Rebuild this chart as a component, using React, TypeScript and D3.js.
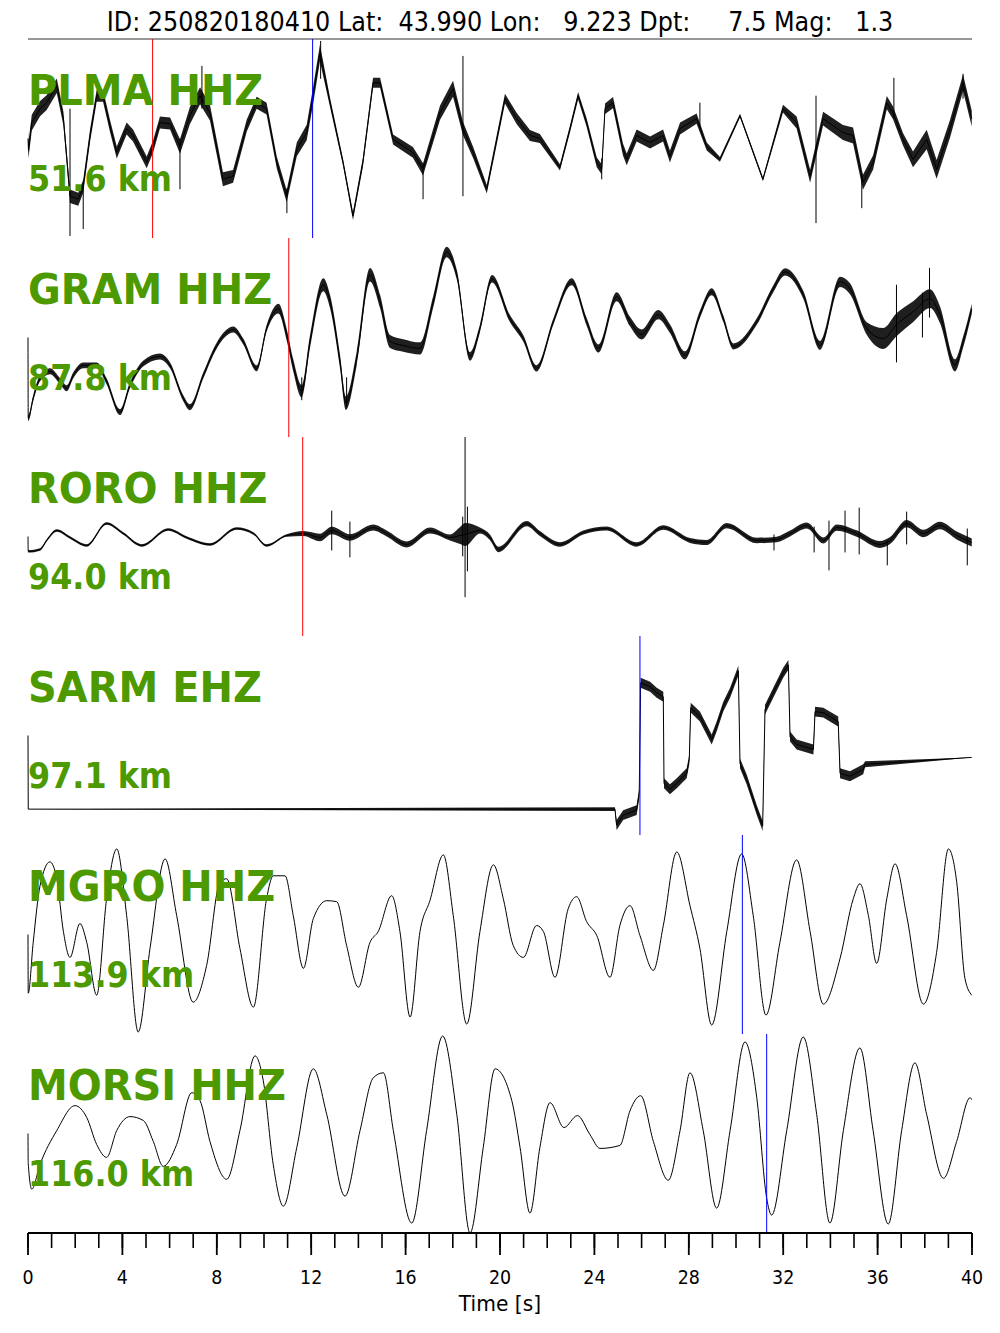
import React from 'react';
import * as d3 from 'd3';

// ---------------- DATA ----------------
const TITLE = 'ID: 250820180410 Lat:  43.990 Lon:   9.223 Dpt:     7.5 Mag:   1.3';
const stationNames = ['PLMA HHZ', 'GRAM HHZ', 'RORO HHZ', 'SARM EHZ', 'MGRO HHZ', 'MORSI HHZ'];
const distanceLabels = ['51.6 km', '87.8 km', '94.0 km', '97.1 km', '113.9 km', '116.0 km'];
const pPicks: (number | null)[] = [5.28, 11.05, 11.64, null, null, null];
const sPicks: (number | null)[] = [12.06, null, null, 25.93, 30.27, 31.3];
const majorTicks = [0, 4, 8, 12, 16, 20, 24, 28, 32, 36, 40];
const minorTicks = [0,1,2,3,4,5,6,7,8,9,10,11,12,13,14,15,16,17,18,19,20,21,22,23,24,25,26,27,28,29,30,31,32,33,34,35,36,37,38,39,40];

// traces: [time s, normalized amplitude]
const plmaTrace: [number, number][] = [
  [0,0],[0.02,-0.12],[0.16,0.16],[0.51,0.3],[0.79,0.36],[1.22,0.53],[1.5,0.2],[1.78,-0.58],[2.13,-0.61],[2.34,-0.48],
  [2.63,0.03],[2.91,0.43],[3.18,0.43],[3.47,0.13],[3.76,-0.14],[4.18,0.1],[4.45,0.03],[5.03,-0.24],[5.3,-0.08],[5.59,0.16],
  [6.02,0.15],[6.44,-0.08],[6.86,0.23],[7.29,0.43],[7.71,0.26],[8.26,-0.41],[8.69,-0.38],[9.27,0.13],[9.69,0.36],[10.11,0.3],
  [10.54,-0.24],[10.96,-0.58],[11.39,-0.11],[11.81,0.06],[12.08,0.43],[12.37,0.86],[12.8,0.36],[13.35,-0.24],[13.77,-0.78],[14.19,-0.24],
  [14.62,0.56],[14.92,0.56],[15.47,-0.01],[16.31,-0.14],[16.74,-0.31],[17.46,0.26],[18.01,0.5],[18.43,0.1],[18.86,-0.14],[19.44,-0.51],
  [20.21,0.4],[20.71,0.2],[21.27,0.03],[21.69,0.0],[22.54,-0.29],[22.97,0.1],[23.31,0.43],[23.67,0.16],[24.1,-0.24],[24.31,-0.31],
  [24.45,0.3],[24.79,0.36],[25.21,-0.11],[25.37,-0.21],[25.79,0.03],[26.36,-0.04],[26.91,0.03],[27.2,-0.18],[27.63,0.1],[28.33,0.2],
  [28.76,-0.08],[29.32,-0.21],[30.17,0.23],[31.14,-0.41],[31.99,0.3],[32.57,0.16],[33.14,-0.38],[33.69,0.2],[34.53,0.06],[34.96,0.03],
  [35.38,-0.44],[35.81,-0.24],[36.39,0.36],[36.65,0.26],[37.08,-0.01],[37.5,-0.21],[38.08,-0.01],[38.5,-0.31],[39.07,0.1],[39.62,0.56],[39.99,0.2],
];
const plmaNoise: [number, number][] = [
  [0,0.08],[3,0.06],[6,0.06],[7,0.09],[9,0.06],[11,0.06],[12.3,0.09],[13,0.03],[14.5,0.05],[16,0.05],[18,0.08],[19.5,0.04],
  [21,0.06],[22.5,0.03],[23.5,0.04],[25,0.06],[28,0.06],[29.5,0.02],[31.5,0.02],[32.5,0.06],[35,0.08],[37,0.06],[38,0.1],[40,0.08],
];
const plmaSpikes: [number, number, number][] = [
  [1.78,0.3,-0.98],[2.34,-0.45,-0.91],[6.44,0.0,-0.51],[7.37,0.73,0.3],[10.97,-0.5,-0.75],[12.4,0.98,0.6],[16.74,-0.25,-0.61],
  [18.43,0.83,-0.58],[24.31,-0.2,-0.41],[28.47,0.36,0.1],[33.39,0.43,-0.85],[35.33,-0.35,-0.7],[36.69,0.61,0.2],[39.62,0.65,0.4],
];

const gramTrace: [number, number][] = [
  [0,0],[0.01,-0.81],[0.22,-0.61],[0.51,-0.41],[0.93,-0.34],[1.36,-0.44],[1.64,-0.51],[1.92,-0.38],[2.34,-0.28],[2.91,-0.28],
  [3.33,-0.44],[3.9,-0.75],[4.32,-0.48],[4.89,-0.26],[5.59,-0.19],[6.02,-0.28],[6.58,-0.61],[6.86,-0.7],[7.43,-0.38],[8.0,-0.08],
  [8.7,0.08],[9.12,-0.04],[9.69,-0.31],[10.11,0.09],[10.61,0.29],[10.96,0.03],[11.24,-0.28],[11.6,-0.54],[11.95,-0.04],[12.51,0.53],
  [12.8,0.36],[13.22,-0.24],[13.47,-0.66],[13.93,-0.21],[14.49,0.63],[14.92,0.36],[15.34,-0.04],[15.9,-0.08],[16.61,-0.11],[17.17,0.36],
  [17.74,0.86],[18.17,0.63],[18.73,-0.19],[19.15,0.09],[19.66,0.59],[20.42,0.19],[20.99,-0.01],[21.55,-0.31],[22.26,0.16],[23.04,0.56],
  [23.67,0.16],[24.17,-0.11],[24.94,0.41],[25.51,0.16],[26.0,0.03],[26.71,0.23],[27.2,0.09],[27.84,-0.18],[28.47,0.23],[28.97,0.46],
  [29.46,0.19],[29.89,-0.09],[30.88,0.16],[31.58,0.49],[32.08,0.66],[32.85,0.43],[33.56,-0.08],[34.41,0.56],[34.83,0.49],[35.54,0.09],
  [36.24,-0.01],[36.81,0.13],[37.51,0.26],[38.22,0.39],[38.64,0.23],[39.28,-0.28],[39.63,-0.04],[39.99,0.29],
];
const gramNoise: [number, number][] = [
  [0,0.03],[10,0.03],[11,0.06],[14,0.07],[17,0.06],[19,0.04],[22,0.03],[26,0.05],[28,0.04],[30,0.03],[33,0.04],
  [35.5,0.06],[36.5,0.12],[38.5,0.09],[39.3,0.06],[40,0.05],
];
const gramSpikes: [number, number, number][] = [
  [11.6,-0.4,-0.63],[13.5,-0.4,-0.7],[36.8,0.53,-0.25],[37.9,0.45,0.0],[38.2,0.7,0.2],
];

const roroTrace: [number, number][] = [
  [0,0],[0.01,-0.15],[0.51,-0.13],[0.79,-0.04],[1.22,0.06],[1.78,-0.01],[2.49,-0.09],[3.33,0.13],[4.04,0.03],[4.82,-0.09],
  [5.94,0.07],[6.72,-0.01],[7.71,-0.08],[8.84,0.08],[9.55,0.03],[10.11,-0.09],[10.96,0.01],[11.67,0.03],[12.37,-0.01],[12.87,0.06],
  [13.64,-0.01],[14.63,0.09],[15.2,0.03],[16.05,-0.08],[17.03,0.06],[17.88,-0.01],[18.31,0.01],[18.52,0.02],[19.15,0.06],[19.58,-0.01],
  [19.93,-0.13],[21.13,0.13],[21.69,0.03],[22.54,-0.08],[23.53,0.04],[24.52,0.08],[25.79,-0.08],[26.92,0.09],[28.05,-0.04],[28.76,-0.06],
  [29.61,0.11],[30.88,-0.04],[31.72,-0.03],[32.29,0.03],[33.0,0.11],[33.7,-0.04],[34.27,0.09],[35.11,0.03],[36.1,-0.08],[36.53,-0.04],
  [37.23,0.13],[37.94,0.03],[38.64,0.11],[39.35,0.01],[39.99,-0.06],
];
const roroNoise: [number, number][] = [
  [0,0.012],[11,0.012],[12.5,0.04],[14,0.03],[18,0.03],[18.5,0.12],[19,0.03],[24,0.02],[33,0.03],[40,0.04],
];
const roroSpikes: [number, number, number][] = [
  [12.87,0.26,-0.14],[13.64,0.15,-0.21],[18.42,0.2,-0.2],[18.52,1.0,-0.61],[18.62,0.3,-0.35],[31.61,0.02,-0.14],[33.31,0.1,-0.16],
  [33.94,0.16,-0.34],[34.62,0.26,-0.16],[35.22,0.29,-0.18],[36.41,-0.04,-0.29],[37.23,0.25,-0.08],[39.8,0.08,-0.29],
];

const sarmTrace: [number, number][] = [
  [0,0],[0.01,-0.74],[24.87,-0.74],[24.94,-0.9],[25.22,-0.8],[25.79,-0.75],[25.9,-0.58],[25.96,0.53],[26.36,0.49],[26.64,0.43],
  [26.92,0.39],[26.95,-0.48],[27.2,-0.54],[27.49,-0.48],[27.91,-0.38],[28.02,-0.24],[28.08,0.28],[28.47,0.19],[28.97,-0.04],[29.18,0.09],
  [29.46,0.29],[29.75,0.43],[30.1,0.65],[30.17,-0.28],[30.45,-0.44],[30.88,-0.75],[31.13,-0.91],[31.23,0.26],[31.58,0.43],[32.0,0.63],
  [32.22,0.71],[32.29,-0.01],[32.57,-0.09],[33.28,-0.14],[33.35,0.24],[33.7,0.23],[34.33,0.14],[34.41,-0.38],[34.83,-0.41],[35.39,-0.34],
  [35.47,-0.29],[39.99,-0.22],
];
const sarmNoise: [number, number][] = [[0,0],[24.85,0],[24.9,0.05],[35.45,0.05],[35.5,0],[40,0]];

const mgroTrace: [number, number][] = [
  [0,0],[0.01,-0.59],[0.22,-0.08],[0.51,0.49],[0.93,0.73],[1.22,0.56],[1.5,0.03],[1.78,-0.23],[2.2,0.11],[2.49,-0.08],
  [2.91,-0.61],[3.33,0.36],[3.76,0.86],[4.18,0.19],[4.67,-0.98],[5.17,-0.14],[5.81,0.76],[6.3,0.19],[7.0,-0.68],[7.57,-0.31],
  [8.14,0.53],[8.42,0.56],[8.98,-0.14],[9.55,-0.73],[10.11,0.36],[10.39,0.59],[10.89,0.59],[11.24,0.19],[11.67,-0.34],[12.09,0.16],
  [12.66,0.34],[13.08,0.33],[13.5,-0.11],[14.0,-0.53],[14.49,-0.08],[14.84,0.03],[15.41,0.39],[15.76,0.03],[16.19,-0.83],[16.61,0.03],
  [17.03,0.34],[17.6,0.8],[18.02,0.19],[18.59,-0.9],[19.15,0.03],[19.72,0.7],[20.14,0.36],[20.56,-0.11],[20.99,-0.23],[21.55,0.09],
  [21.84,0.03],[22.33,-0.43],[22.89,0.26],[23.25,0.38],[23.67,0.13],[24.1,-0.01],[24.66,-0.43],[25.08,0.09],[25.51,0.29],[25.93,-0.01],
  [26.5,-0.36],[26.92,0.09],[27.49,0.83],[28.05,0.29],[28.47,-0.14],[28.97,-0.91],[29.61,0.03],[30.24,0.81],[30.73,0.19],[31.27,-0.81],
  [31.86,-0.08],[32.57,0.75],[33.14,0.03],[33.7,-0.7],[34.41,-0.24],[34.97,0.36],[35.25,0.51],[35.61,0.19],[35.96,-0.29],[36.39,0.36],
  [36.74,0.71],[37.23,0.19],[37.94,-0.7],[38.5,-0.18],[39.0,0.86],[39.35,0.53],[39.7,-0.44],[39.99,-0.61],
];

const morsiTrace: [number, number][] = [
  [0,0],[0.01,-0.3],[0.16,-0.56],[0.51,-0.31],[1.22,0.03],[1.99,0.28],[2.49,0.16],[2.91,-0.11],[3.33,-0.24],[3.76,0.03],
  [4.32,0.17],[4.89,0.13],[5.31,-0.08],[5.73,-0.33],[6.3,-0.11],[6.94,0.41],[7.29,0.33],[7.71,-0.08],[8.42,-0.46],[8.98,0.03],
  [9.62,0.78],[9.97,0.53],[10.39,-0.31],[10.82,-0.73],[11.39,-0.14],[12.09,0.65],[12.66,0.19],[13.43,-0.63],[14.07,0.03],[14.63,0.56],
  [15.06,0.61],[15.48,0.03],[16.26,-0.9],[16.89,0.03],[17.57,0.98],[18.17,0.19],[18.73,-1.0],[19.29,-0.14],[19.79,0.65],[20.5,0.33],
  [20.85,-0.14],[21.27,-0.8],[21.69,-0.14],[22.12,0.31],[22.71,0.06],[23.28,0.18],[23.81,-0.01],[24.24,-0.15],[25.08,-0.12],[25.51,0.23],
  [25.96,0.38],[26.5,-0.08],[27.13,-0.47],[27.63,0.03],[28.05,0.61],[28.61,0.03],[29.18,-0.75],[29.75,0.03],[30.38,0.92],[30.88,0.36],
  [31.3,-0.65],[31.51,-0.82],[32.15,0.03],[32.85,0.97],[33.42,0.19],[33.98,-0.9],[34.55,0.03],[35.25,0.86],[35.81,0.03],[36.45,-0.91],
  [37.02,0.03],[37.58,0.71],[38.08,0.19],[38.79,-0.45],[39.35,-0.08],[39.92,0.36],[39.99,0.34],
];

// ---------------- LAYOUT ----------------
const W = 1000, H = 1333;
const X0 = 28, X1 = 972;
const TOP = 39, PANEL_H = 199;
const AXIS_Y = TOP + 6 * PANEL_H;

const traces = [plmaTrace, gramTrace, roroTrace, sarmTrace, mgroTrace, morsiTrace];
const noises: ([number, number][] | null)[] = [plmaNoise, gramNoise, roroNoise, sarmNoise, null, null];
const spikes: ([number, number, number][] | null)[] = [plmaSpikes, gramSpikes, roroSpikes, null, null, null];
const curves = [d3.curveLinear, d3.curveMonotoneX, d3.curveMonotoneX, d3.curveLinear, d3.curveMonotoneX, d3.curveMonotoneX];

const GREEN = '#4c9900';
const FONT = '"DejaVu Sans", Verdana, sans-serif';

function interp(arr: [number, number][], t: number) {
  const s = d3.scaleLinear().domain(arr.map((d) => d[0])).range(arr.map((d) => d[1])).clamp(true);
  return s(t);
}

function SText(props: { x: number; y: number; size: number; sx: number; bold?: boolean; anchor?: string; fill?: string; children: string }) {
  const { x, y, size, sx, bold, anchor, fill, children } = props;
  return (
    <text
      transform={`translate(${x},${y}) scale(${sx},1)`}
      fontFamily={FONT}
      fontSize={size}
      fontWeight={bold ? 'bold' : 'normal'}
      textAnchor={anchor || 'start'}
      fill={fill || '#000'}
      style={{ whiteSpace: 'pre' }}
    >
      {children}
    </text>
  );
}

export default function App() {
  const x = d3.scaleLinear().domain([0, 40]).range([X0, X1]);

  return (
    <svg width={W} height={H} style={{ position: 'absolute', left: 0, top: 0, background: '#fff' }}>
      <rect x={0} y={0} width={W} height={H} fill="#fff" />
      <SText x={500} y={31} size={26} sx={0.92} anchor="middle">{TITLE}</SText>
      <line x1={X0} x2={X1} y1={TOP} y2={TOP} stroke="#333" strokeWidth={1.2} />
      {traces.map((tr, i) => {
        const top = TOP + i * PANEL_H;
        const y = d3.scaleLinear().domain([-1, 1]).range([top + PANEL_H, top]);
        const line = d3.line<[number, number]>().x((d) => x(d[0])).y((d) => y(d[1])).curve(curves[i]);
        const nz = noises[i];
        let band: string | null = null;
        if (nz) {
          const area = d3
            .area<[number, number]>()
            .x((d) => x(d[0]))
            .y0((d) => y(d[1] - interp(nz, d[0])))
            .y1((d) => y(d[1] + interp(nz, d[0])))
            .curve(curves[i]);
          band = area(tr);
        }
        const p = pPicks[i];
        const s = sPicks[i];
        return (
          <g key={i}>
            {band && <path d={band} fill="#000" fillOpacity={0.88} stroke="none" />}
            <path d={line(tr) || ''} fill="none" stroke="#000" strokeWidth={1} strokeLinejoin="round" />
            {(spikes[i] || []).map((sp, k) => (
              <line key={k} x1={x(sp[0])} x2={x(sp[0])} y1={y(sp[1])} y2={y(sp[2])} stroke="#000" strokeWidth={1} />
            ))}
            {p !== null && <line x1={x(p)} x2={x(p)} y1={top} y2={top + PANEL_H} stroke="#ff0000" strokeWidth={1} />}
            {s !== null && <line x1={x(s)} x2={x(s)} y1={top} y2={top + PANEL_H} stroke="#0000ff" strokeWidth={1} />}
            <SText x={X0} y={top + 66} size={43} sx={0.93} bold fill={GREEN}>{stationNames[i]}</SText>
            <SText x={X0} y={top + 152} size={36} sx={0.885} bold fill={GREEN}>{distanceLabels[i]}</SText>
          </g>
        );
      })}
      <g>
        <line x1={X0} x2={X1} y1={AXIS_Y} y2={AXIS_Y} stroke="#000" strokeWidth={2} />
        {minorTicks.map((t) => (
          <line key={'m' + t} x1={x(t)} x2={x(t)} y1={AXIS_Y} y2={AXIS_Y + 15} stroke="#000" strokeWidth={1.6} />
        ))}
        {majorTicks.map((t) => (
          <g key={'M' + t}>
            <line x1={x(t)} x2={x(t)} y1={AXIS_Y} y2={AXIS_Y + 22} stroke="#000" strokeWidth={1.8} />
            <SText x={x(t)} y={AXIS_Y + 51} size={19} sx={0.92} anchor="middle">{String(t)}</SText>
          </g>
        ))}
        <SText x={500} y={1311} size={22} sx={0.92} anchor="middle">Time [s]</SText>
      </g>
    </svg>
  );
}
